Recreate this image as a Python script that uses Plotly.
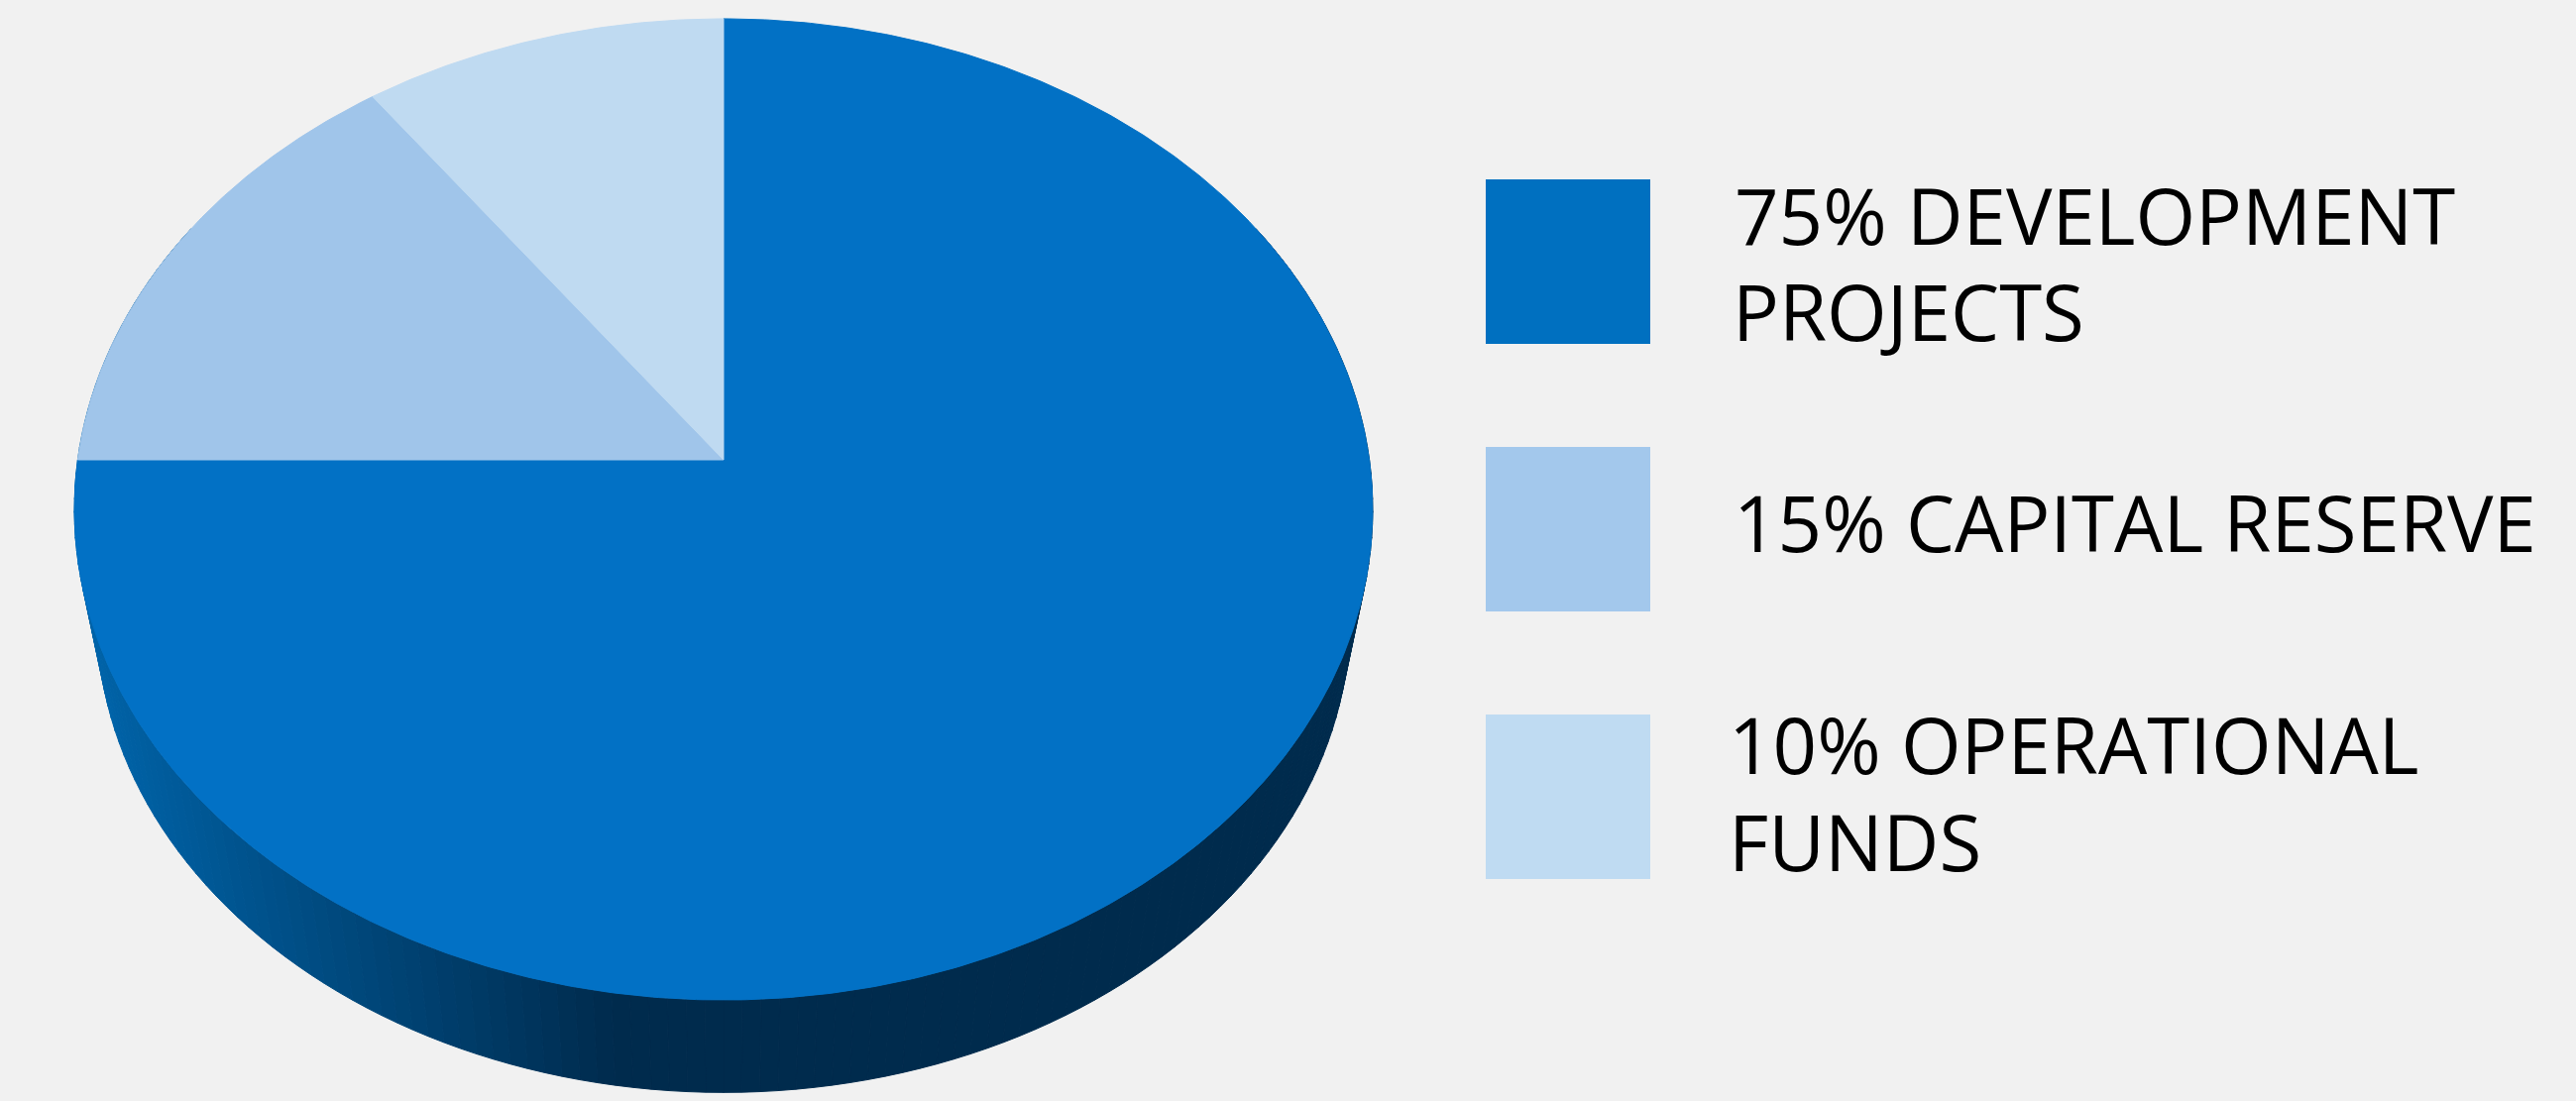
import numpy as np
import plotly.graph_objects as go

# --- data ---
categories = ["DEVELOPMENT PROJECTS", "CAPITAL RESERVE", "OPERATIONAL FUNDS"]
shares = [75, 15, 10]
slice_colors = ["#0271C5", "#A0C5EA", "#BFDAF1"]
swatch_colors = ["#0070C0", "#A3C8EC", "#BFDBF2"]
label_lines = [["75% DEVELOPMENT", "PROJECTS"], ["15% CAPITAL RESERVE"], ["10% OPERATIONAL", "FUNDS"]]

W, H = 2599, 1111
BG = "#F1F1F1"
FONT = "Open Sans"
FS = 78

# perspective projection of a disc: (clockwise angle from 12 o'clock) -> plot position
K = 0.101


def rim(theta_deg, cx, cy, b, a):
    t = np.radians(theta_deg)
    u, v = np.sin(t), np.cos(t)
    w = 1 + K * v
    return cx + b * u / w, cy - a * v / w


TOP = dict(cx=730, cy=464, b=651.6, a=490)
BOTTOM = dict(cx=730, cy=574, b=629, a=475)

fig = go.Figure()

# side wall: thin strips shaded left to right


def side_color(x):
    t = min(max((x - 90) / (620 - 90), 0), 1)
    c0, c1 = (0, 99, 168), (0, 43, 77)
    return "rgb(%d,%d,%d)" % tuple(round(p + (q - p) * t) for p, q in zip(c0, c1))


step = 1.5
for th in np.arange(60, 300, step):
    xa, ya = rim(np.array([th, th + step]), **TOP)
    xb, yb = rim(np.array([th + step, th]), **BOTTOM)
    col = side_color(float(xa.mean()))
    fig.add_trace(go.Scatter(
        x=np.r_[xa, xb, xa[0]], y=np.r_[ya, yb, ya[0]], mode="lines", fill="toself",
        fillcolor=col, line=dict(color=col, width=1), hoverinfo="skip", showlegend=False))

# top face: one wedge per share, clockwise from 12 o'clock
start = 0.0
for name, share, col in zip(categories, shares, slice_colors):
    sweep = 360.0 * share / sum(shares)
    ang = np.linspace(start, start + sweep, int(sweep * 2) + 2)
    x, y = rim(ang, **TOP)
    fig.add_trace(go.Scatter(
        x=np.r_[TOP["cx"], x, TOP["cx"]], y=np.r_[TOP["cy"], y, TOP["cy"]], mode="lines",
        fill="toself", fillcolor=col, line=dict(color=col, width=1),
        name=name, hoverinfo="skip", showlegend=False))
    start += sweep

# legend
swatch_top = [181, 451, 721]
swatch_size = 166
baselines = [[245, 342], [555], [779, 877]]
text_x = [[1749, 1747], [1748], [1743, 1743]]
shapes = []
annotations = []
for i, col in enumerate(swatch_colors):
    shapes.append(dict(type="rect", xref="x", yref="y", x0=1499, x1=1499 + swatch_size,
                       y0=swatch_top[i], y1=swatch_top[i] + swatch_size,
                       fillcolor=col, line=dict(width=0), layer="above"))
    for line, base, tx in zip(label_lines[i], baselines[i], text_x[i]):
        annotations.append(dict(x=tx, y=base - 0.357 * FS * 1.0, xref="x", yref="y", text=line,
                                showarrow=False, xanchor="left", yanchor="middle",
                                font=dict(family=FONT, size=FS, color="#000000"),
                                borderpad=0))

fig.update_layout(
    width=W, height=H, margin=dict(l=0, r=0, t=0, b=0, pad=0), autosize=False,
    paper_bgcolor=BG, plot_bgcolor=BG, showlegend=False,
    xaxis=dict(range=[0, W], visible=False, fixedrange=True),
    yaxis=dict(range=[H, 0], visible=False, fixedrange=True),
    shapes=shapes, annotations=annotations)

fig.write_html("out.html", config={"displayModeBar": False},
               post_script="document.body.style.margin='0';document.documentElement.style.overflow='hidden';")
